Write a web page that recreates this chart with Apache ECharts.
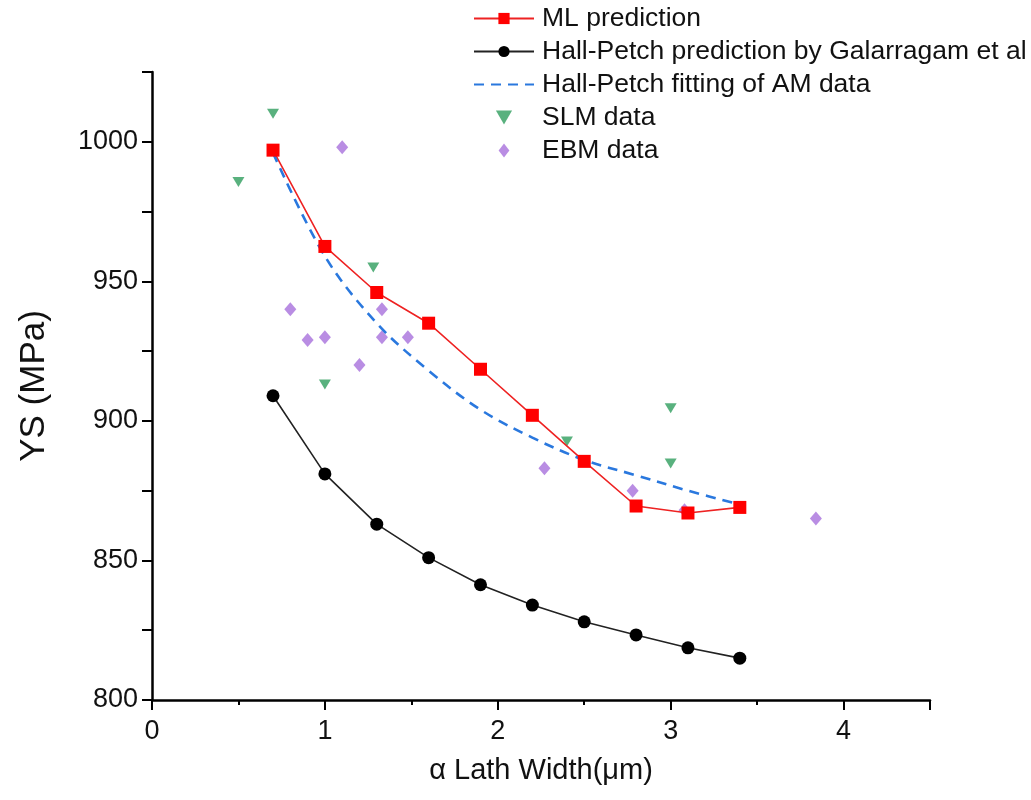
<!DOCTYPE html>
<html>
<head>
<meta charset="utf-8">
<script src="https://cdn.jsdelivr.net/npm/echarts@6/dist/echarts.min.js"></script>
<style>
html,body{margin:0;padding:0;background:#fff;}
#chart{width:1031px;height:800px;}
</style>
</head>
<body>
<div id="chart"></div>
<script>
// ---- data ----
const mlX  = [0.7, 1.0, 1.3, 1.6, 1.9, 2.2, 2.5, 2.8, 3.1, 3.4];
const mlY  = [997, 962.5, 946, 935, 918.5, 902, 885.5, 869.5, 867, 869];
const hpX  = [0.7, 1.0, 1.3, 1.6, 1.9, 2.2, 2.5, 2.8, 3.1, 3.4];
const hpY  = [909, 881, 863, 851, 841.3, 834, 828, 823.3, 818.7, 815];
const fitX = [0.7, 1.0, 1.3, 1.6, 1.9, 2.2, 2.5, 2.8, 3.1, 3.4];
const fitY = [996, 959, 935, 918, 904, 894, 886, 880.5, 875, 870];
const slmX = [0.5, 0.7, 1.0, 1.28, 2.4, 3.0, 3.0];
const slmY = [985.6, 1010, 913, 955, 892.6, 904.5, 884.7];
const ebmX = [0.8, 0.9, 1.0, 1.1, 1.2, 1.33, 1.33, 1.48, 2.27, 2.78, 3.08, 3.84];
const ebmY = [940, 929, 930, 998, 920, 940, 930, 930, 883, 875, 868, 865];

const seriesNames = ['ML prediction', 'Hall-Petch prediction by Galarragam et al',
  'Hall-Petch fitting of AM data', 'SLM data', 'EBM data'];
const xTicks = [0, 1, 2, 3, 4];
const yTicks = [800, 850, 900, 950, 1000];

const zip = (a, b) => a.map((v, i) => [v, b[i]]);
const FONT = '"Liberation Sans", Arial, sans-serif';
const triDown = 'path://M0,0 L10,0 L5,8.66 Z';
const diamond = 'path://M5,0 L10,6.5 L5,13 L0,6.5 Z';

const chart = echarts.init(document.getElementById('chart'));
chart.setOption({
  backgroundColor: '#fff',
  animation: false,
  textStyle: {fontFamily: FONT},
  grid: {left: 152, right: 101, top: 72, bottom: 100},
  legend: {
    orient: 'vertical', left: 473, top: 5, padding: 0,
    itemWidth: 60, itemHeight: 14, itemGap: 6,
    textStyle: {fontFamily: FONT, fontSize: 26.5, color: '#111', padding: [0, 0, 0, 3]},
    data: [
      {name: seriesNames[0]},
      {name: seriesNames[1]},
      {name: seriesNames[2], itemStyle: {opacity: 0}},
      {name: seriesNames[3]},
      {name: seriesNames[4]}
    ]
  },
  xAxis: {
    type: 'value', min: 0, max: 4.5, interval: 1,
    name: 'α Lath Width(μm)', nameLocation: 'middle', nameGap: 56,
    nameTextStyle: {fontFamily: FONT, fontSize: 29, color: '#111'},
    axisLine: {show: true, lineStyle: {color: '#000', width: 2.5}},
    axisTick: {show: true, inside: false, length: 10, lineStyle: {color: '#000', width: 2}},
    minorTick: {show: true, splitNumber: 2, length: 5, lineStyle: {color: '#000', width: 2}},
    splitLine: {show: false},
    axisLabel: {fontFamily: FONT, fontSize: 27, color: '#111', margin: 18,
      formatter: v => xTicks.includes(v) ? String(v) : ''}
  },
  yAxis: {
    type: 'value', min: 800, max: 1025, interval: 25,
    name: 'YS (MPa)', nameLocation: 'middle', nameGap: 100,
    nameTextStyle: {fontFamily: FONT, fontSize: 35, color: '#111'},
    axisLine: {show: true, lineStyle: {color: '#000', width: 2.5}},
    axisTick: {show: true, inside: false, length: 10, lineStyle: {color: '#000', width: 2}},
    splitLine: {show: false},
    axisLabel: {fontFamily: FONT, fontSize: 27, color: '#111', margin: 14,
      formatter: v => yTicks.includes(v) ? String(v) : ''}
  },
  series: [
    {
      name: seriesNames[0], type: 'line', data: zip(mlX, mlY),
      symbol: 'rect', symbolSize: 13,
      lineStyle: {color: '#ee2222', width: 1.6},
      itemStyle: {color: '#ff0000'}
    },
    {
      name: seriesNames[1], type: 'line', data: zip(hpX, hpY),
      symbol: 'circle', symbolSize: 13,
      lineStyle: {color: '#222', width: 1.6},
      itemStyle: {color: '#000'}
    },
    {
      name: seriesNames[2], type: 'line', data: zip(fitX, fitY),
      symbol: 'none', smooth: 0.35,
      lineStyle: {color: '#2a78de', width: 2.6, type: [10, 7]},
      itemStyle: {color: '#2a78de'}
    },
    {
      name: seriesNames[3], type: 'scatter', data: zip(slmX, slmY),
      symbol: triDown, symbolSize: [12, 10],
      itemStyle: {color: '#2f9e5e'}
    },
    {
      name: seriesNames[4], type: 'scatter', data: zip(ebmX, ebmY),
      symbol: diamond, symbolSize: [12, 14],
      itemStyle: {color: '#a870dc'}
    }
  ]
});
</script>
</body>
</html>
